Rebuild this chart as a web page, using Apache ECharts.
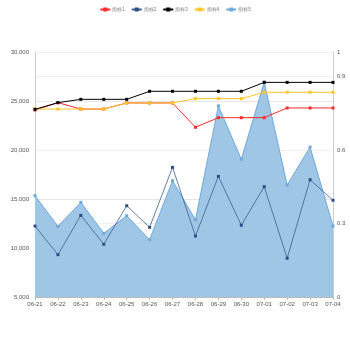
<!DOCTYPE html>
<html><head><meta charset="utf-8">
<script src="https://cdn.jsdelivr.net/npm/echarts@6/dist/echarts.min.js"></script>
<style>html,body{margin:0;padding:0;background:#fff}#c{width:350px;height:350px}</style>
</head><body><div id="c"></div>
<script>
const categories = ['06-21','06-22','06-23','06-24','06-25','06-26','06-27','06-28','06-29','06-30','07-01','07-02','07-03','07-04'];
const seriesNames = ['指标1','指标2','指标3','指标4','指标5'];
const s1 = [24080,24830,24180,24180,24800,24800,24800,22320,23300,23300,23300,24290,24290,24290];
const s2 = [12240,9320,13330,10380,14310,12110,18230,11220,17310,12320,16260,8950,16970,14870];
const s3 = [24150,24830,25170,25170,25170,25990,25990,25990,25990,25990,26900,26900,26900,26900];
const s4 = [24180,24180,24180,24180,24800,24800,24800,25240,25240,25240,25890,25890,25890,25890];
const s5 = [15340,12210,14660,11500,13300,10850,16870,12890,24500,19050,26940,16430,20300,12240];
const leftTicks = [5000,30000,5000];
const rightTicks = [0,1,0.3];

const chart = echarts.init(document.getElementById('c'));
const lab = {fontSize:6,color:'#555',fontFamily:'Liberation Sans'};
function line(name,data,color,extra){
  return Object.assign({name,type:'line',data,symbol:'rect',symbolSize:3,
    lineStyle:{width:1,color},itemStyle:{color},emphasis:{disabled:true}},extra||{});
}
chart.setOption({
  animation:false,
  color:['#ff2a2a','#2c4f86','#000000','#ffc425','#6ea9dc'],
  legend:{top:2,left:'center',itemWidth:10,itemHeight:5,itemGap:6,
    textStyle:{fontSize:4.5,color:'#777',padding:[0,0,0,-3]},data:seriesNames},
  grid:{left:35,right:17,top:52,bottom:53},
  xAxis:{type:'category',boundaryGap:false,data:categories,
    axisLine:{lineStyle:{color:'#bbb'}},axisTick:{length:3,lineStyle:{color:'#bbb'}},
    axisLabel:Object.assign({margin:4},lab)},
  yAxis:[
    {type:'value',min:leftTicks[0],max:leftTicks[1],interval:leftTicks[2],
     axisLine:{show:true,lineStyle:{color:'#ccc'}},axisTick:{show:false},
     splitLine:{lineStyle:{color:'#e6e6e6'}},
     axisLabel:Object.assign({margin:6,formatter:v=>v.toLocaleString('en-US')},lab)},
    {type:'value',min:rightTicks[0],max:rightTicks[1],interval:rightTicks[2],
     axisLine:{show:true,lineStyle:{color:'#ccc'}},axisTick:{show:false},
     splitLine:{lineStyle:{color:'#eeeeee'}},
     axisLabel:Object.assign({margin:4},lab)}
  ],
  series:[
    line(seriesNames[0],s1,'#ff2a2a',{z:4}),
    line(seriesNames[1],s2,'#2c4f86',{z:3,lineStyle:{width:0.8,color:'#3c5f90'}}),
    line(seriesNames[2],s3,'#000000',{z:5}),
    line(seriesNames[3],s4,'#ffc425',{z:4}),
    line(seriesNames[4],s5,'#6ea9dc',{z:2,areaStyle:{color:'#9fc6e5',opacity:1}})
  ]
});
</script></body></html>
